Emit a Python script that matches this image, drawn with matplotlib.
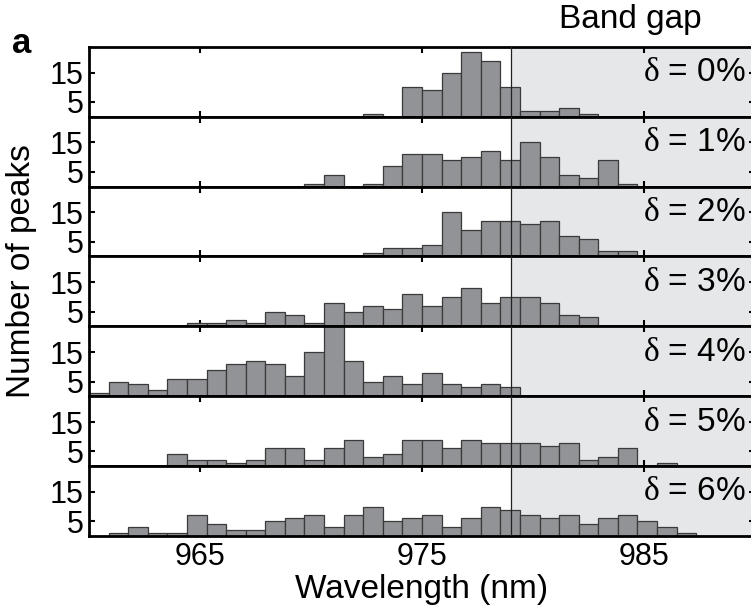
import numpy as np
import matplotlib.pyplot as plt

plt.rcParams["font.family"] = ["Liberation Sans", "DejaVu Sans"]
plt.rcParams["mathtext.fontset"] = "custom"
plt.rcParams["mathtext.rm"] = "Liberation Serif"
plt.rcParams["mathtext.it"] = "Liberation Serif"

# 34 equal bins from 960 to 990 nm
bin_edges = np.linspace(960, 990, 35)
band_edge = 979

deltas = [0, 1, 2, 3, 4, 5, 6]
counts_0 = [0] * 14 + [1, 0, 10, 9, 15, 22, 19, 10, 2, 2, 3, 1] + [0] * 8
counts_1 = [0] * 11 + [1, 4, 0, 1, 7, 11, 11, 9, 10, 12, 9, 15, 10, 4, 3, 9, 1] + [0] * 6
counts_2 = [0] * 14 + [1, 3, 3, 4, 15, 9, 12, 12, 11, 12, 7, 6, 2, 2] + [0] * 6
counts_3 = [0] * 5 + [1, 1, 2, 1, 5, 4, 1, 8, 5, 7, 6, 11, 7, 10, 13, 8, 10, 10, 8, 4, 3] + [0] * 8
counts_4 = [1, 5, 4, 2, 6, 6, 9, 11, 12, 11, 7, 15, 24, 12, 5, 7, 4, 8, 4, 3, 4, 3] + [0] * 12
counts_5 = [0] * 4 + [4, 2, 2, 1, 2, 6, 6, 2, 6, 9, 3, 4, 9, 9, 6, 9, 8, 8, 8, 7, 8, 2, 3, 6, 0, 1] + [0] * 4
counts_6 = [0, 1, 3, 1, 1, 7, 4, 2, 2, 5, 6, 7, 3, 7, 10, 5, 6, 7, 3, 6, 10, 9, 7, 6, 7, 4, 6, 7, 5, 3, 1, 0, 0, 0]
all_counts = [counts_0, counts_1, counts_2, counts_3, counts_4, counts_5, counts_6]

fig, axes = plt.subplots(7, 1, sharex=True, figsize=(7.51, 6.09), dpi=100)
fig.subplots_adjust(left=0.1185, right=1.0053, bottom=0.1199, top=0.9233, hspace=0)

for ax, delta, counts in zip(axes, deltas, all_counts):
    ax.axvspan(band_edge, 990, color="#e6e7e8", zorder=0, lw=0)
    ax.bar(bin_edges[:-1], counts, width=np.diff(bin_edges), align="edge",
           color="#929396", edgecolor="#3a3a3a", linewidth=0.9, zorder=2)
    ax.axvline(band_edge, color="#222222", lw=0.9, zorder=3)
    ax.set_xlim(960, 990)
    ax.set_ylim(0, 23.8)
    ax.set_yticks([5, 15])
    ax.set_xticks([965, 975, 985])
    ax.tick_params(direction="in", top=True, right=True, length=4, width=1.5,
                   labelsize=22, pad=4)
    for s in ax.spines.values():
        s.set_linewidth(2)
    ax.text(0.9865, 0.63, r"$\delta$ = %d%%" % delta, transform=ax.transAxes,
            ha="right", va="center", fontsize=24, zorder=4)

axes[-1].set_xlabel("Wavelength (nm)", fontsize=24, labelpad=2)
fig.text(0.029, 0.555, "Number of peaks", rotation=90, ha="center", va="center", fontsize=24)
fig.text(0.839, 0.9535, "Band gap", ha="center", va="baseline", fontsize=24)
fig.text(0.0156, 0.913, "a", ha="left", va="baseline", fontsize=25, fontweight="bold")

fig.savefig("out.png", dpi=100)
